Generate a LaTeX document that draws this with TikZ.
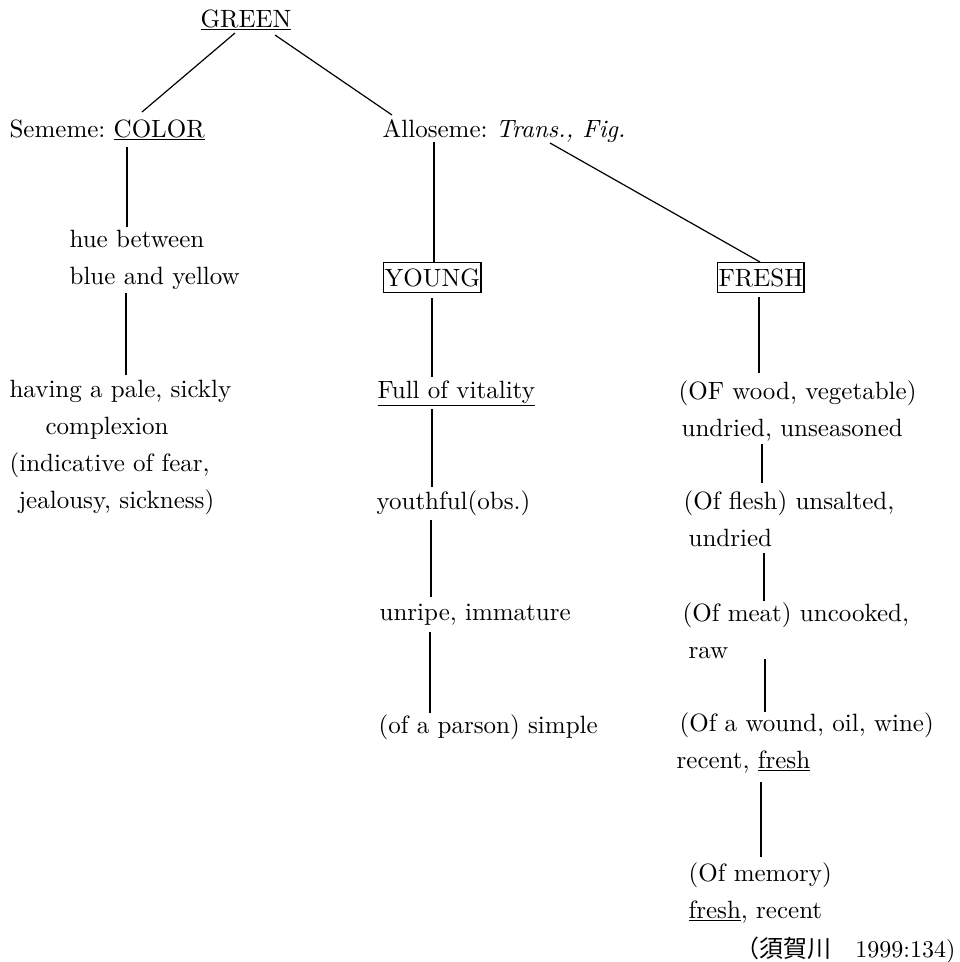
\documentclass[tikz,border=0pt]{standalone}
\usepackage{fontspec}
\setmainfont{lmroman10-regular}[Extension=.otf, ItalicFont=lmroman10-italic, BoldFont=lmroman10-bold]
\newfontfamily\jfont{Noto Sans CJK JP}
\frenchspacing

\begin{document}
\begin{tikzpicture}[
		x=1pt, y=-1pt,
		line width=1.2pt,
		every node/.style={
			inner sep=0pt,
			anchor=north west,
			align=left,
			font=\fontsize{25}{37}\selectfont
		},
		boxed/.style={
			draw,
			inner xsep=1pt,
			minimum height=30pt
		}
		]
		
		\useasboundingbox (0,0) rectangle (960,962);
		
		\node (green) at (200,9) {\underline{GREEN}};
		\node (sememe) at (9,119) {Sememe: \underline{COLOR}};
		\node (allo) at (382,119) {Alloseme: \textit{Trans., Fig.}};
		
		% COLOR branch
		\node (hue) at (69,230) {hue between\\blue and yellow};
		\node (having) at (9,380) {having a pale, sickly\\\hspace*{36pt}complexion\\(indicative of fear,\\\hspace*{9pt}jealousy, sickness)};
		
		% YOUNG branch
		\node (young) [boxed] at (383,262) {YOUNG};
		\node (vital) at (377,380) {\underline{Full of vitality}};
		\node (youth) at (376,490) {youthful(obs.)};
		\node (unripe) at (379,603) {unripe, immature};
		\node (parson) at (378,714) {(of a parson) simple};
		
		% FRESH branch
		\node (fresh) [boxed] at (717,262) {FRESH};
		\node (wood) at (678,380) {(OF wood, vegetable)\\\hspace*{3pt}undried, unseasoned};
		\node (flesh) at (683,490) {(Of flesh) unsalted,\\\hspace*{5pt}undried};
		\node (meat) at (682,602) {(Of meat) uncooked,\\\hspace*{6pt}raw};
		\node (wound) at (676,712) {\hspace*{3pt}(Of a wound, oil, wine)\\recent, \underline{fresh}};
		\node (memory) at (688,862) {(Of memory)\\\underline{fresh}, recent};
		
		\node (cite) [anchor=base east, font=\fontsize{24}{30}\selectfont] at (956,957) {{\jfont （須賀川　}1999:134)};
		
		\draw ([shift={(35,24)}]green.north west)--([shift={(133,-7)}]sememe.north west);
		\draw ([shift={(75,26)}]green.north west)--([shift={(10,-4)}]allo.north west);
		
		\draw ([shift={(118,28)}]sememe.north west)--([shift={(58,-3)}]hue.north west);
		\draw ([shift={(57,63)}]hue.north west)--([shift={(117,-5)}]having.north west);
		
		\draw ([shift={(52,23)}]allo.north west)--([shift={(51,0)}]young.north west);
		\draw ([shift={(168,24)}]allo.north west)--([shift={(43,0)}]fresh.north west);
		
		\draw ([shift={(49,36)}]young.north west)--([shift={(55,-3)}]vital.north west);
		\draw ([shift={(55,29)}]vital.north west)--([shift={(56,-3)}]youth.north west);
		\draw ([shift={(55,30)}]youth.north west)--([shift={(52,-6)}]unripe.north west);
		\draw ([shift={(51,29)}]unripe.north west)--([shift={(52,-1)}]parson.north west);
		
		\draw ([shift={(42,35)}]fresh.north west)--([shift={(81,-7)}]wood.north west);
		\draw ([shift={(84,64)}]wood.north west)--([shift={(79,-7)}]flesh.north west);
		\draw ([shift={(81,63)}]flesh.north west)--([shift={(82,-1)}]meat.north west);
		\draw ([shift={(83,57)}]meat.north west)--([shift={(89,0)}]wound.north west);
		\draw ([shift={(85,70)}]wound.north west)--([shift={(73,-5)}]memory.north west);
		
	\end{tikzpicture}
\end{document}
